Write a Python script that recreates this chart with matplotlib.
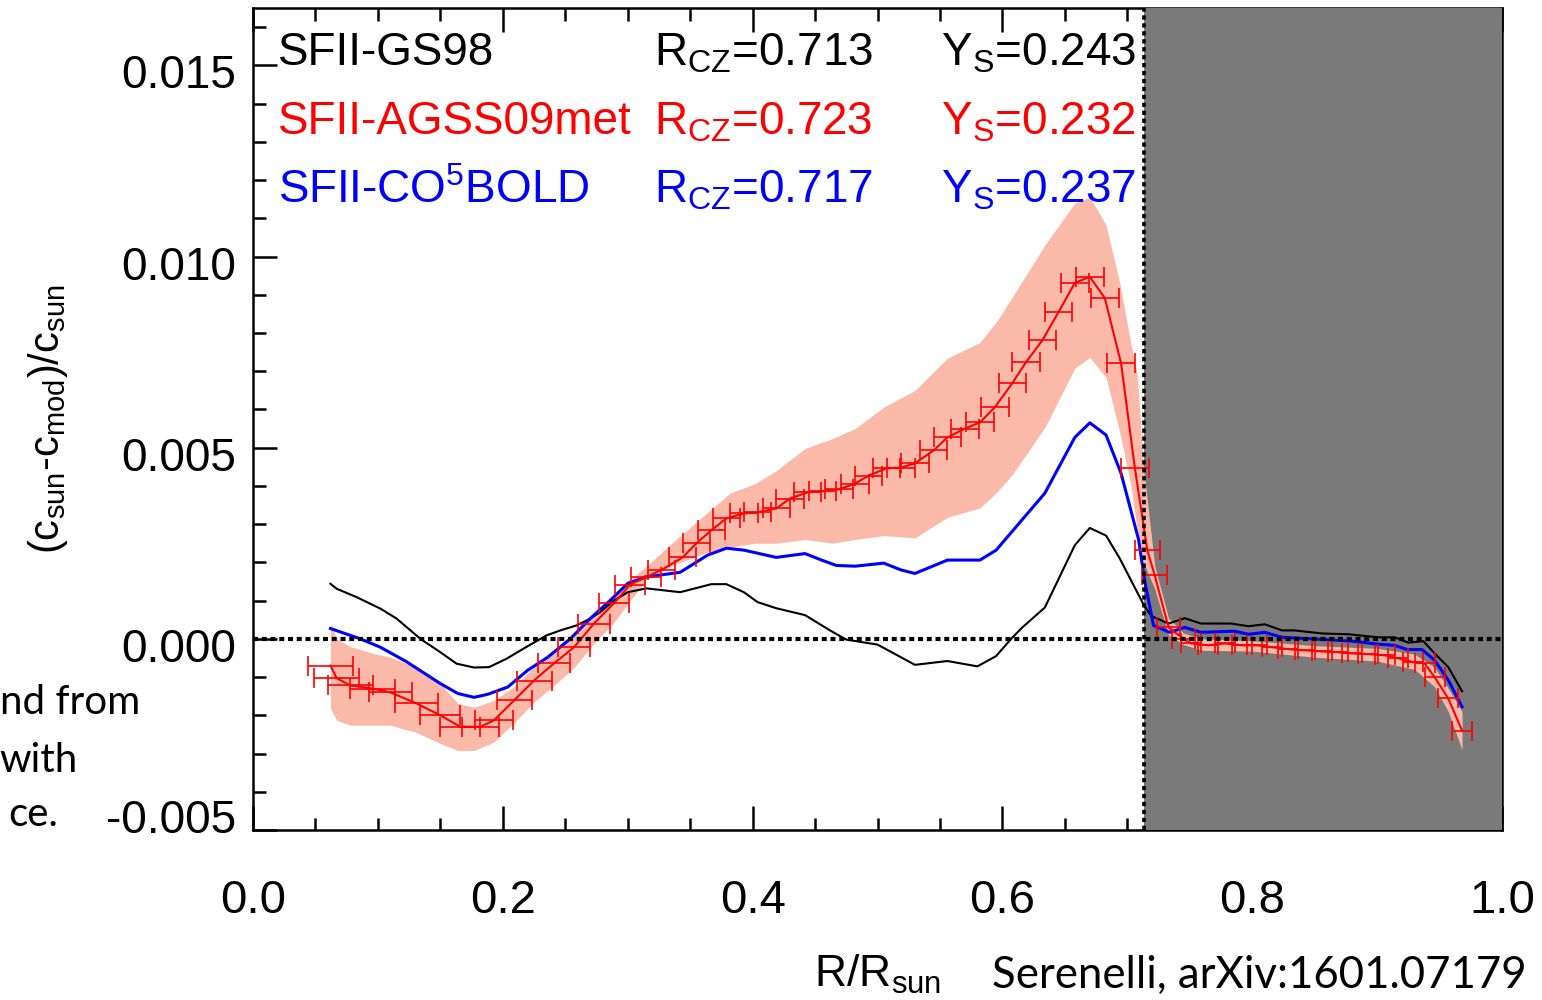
import matplotlib
matplotlib.use("Agg")
import matplotlib.pyplot as plt
import matplotlib.transforms as mtransforms
import numpy as np
from matplotlib.ticker import MultipleLocator

plt.rcParams['font.family'] = ['Liberation Sans', 'DejaVu Sans']
plt.rcParams['mathtext.default'] = 'regular'

# --- data (sound speed differences, in units of 1e-3) ---
gs98_x = [0.062, 0.067, 0.083, 0.102, 0.115, 0.134, 0.150, 0.163, 0.177, 0.189,
          0.203, 0.219, 0.235, 0.246, 0.259, 0.270, 0.278, 0.289, 0.300, 0.315,
          0.342, 0.367, 0.379, 0.393, 0.404, 0.419, 0.442, 0.462, 0.475, 0.500,
          0.530, 0.556, 0.580, 0.595, 0.607, 0.616, 0.634, 0.658, 0.670, 0.683,
          0.694, 0.709, 0.713, 0.719, 0.733, 0.746, 0.759, 0.783, 0.797, 0.810,
          0.824, 0.834, 0.856, 0.877, 0.901, 0.914, 0.925, 0.937, 0.946, 0.957,
          0.968]
gs98_y = [1.44, 1.31, 1.09, 0.79, 0.53, 0.00, -0.35, -0.65, -0.75, -0.74,
          -0.52, -0.21, 0.09, 0.22, 0.35, 0.53, 0.70, 1.00, 1.22, 1.32,
          1.22, 1.43, 1.43, 1.22, 0.96, 0.80, 0.62, 0.22, -0.02, -0.15,
          -0.68, -0.58, -0.72, -0.45, 0.00, 0.30, 0.82, 2.45, 2.90, 2.70,
          2.10, 1.15, 0.90, 0.60, 0.40, 0.54, 0.40, 0.40, 0.33, 0.38,
          0.22, 0.22, 0.14, 0.12, 0.04, 0.04, -0.10, -0.06, -0.38, -0.74,
          -1.37]

co5_x = [0.062, 0.086, 0.102, 0.123, 0.150, 0.164, 0.177, 0.188, 0.204, 0.220,
         0.236, 0.254, 0.270, 0.286, 0.300, 0.315, 0.342, 0.364, 0.379, 0.393,
         0.419, 0.442, 0.456, 0.467, 0.482, 0.505, 0.519, 0.530, 0.556, 0.582,
         0.595, 0.634, 0.658, 0.670, 0.683, 0.695, 0.709, 0.714, 0.721, 0.734,
         0.746, 0.759, 0.786, 0.797, 0.810, 0.824, 0.853, 0.880, 0.901, 0.914,
         0.924, 0.936, 0.946, 0.957, 0.968]
co5_y = [0.27, 0.00, -0.22, -0.60, -1.17, -1.43, -1.53, -1.45, -1.26, -0.82,
         -0.48, 0.00, 0.53, 1.00, 1.45, 1.62, 1.74, 2.19, 2.37, 2.32,
         2.13, 2.23, 2.05, 1.92, 1.90, 1.98, 1.80, 1.71, 2.06, 2.06,
         2.32, 3.81, 5.27, 5.65, 5.33, 4.33, 2.60, 1.50, 0.35, 0.17,
         0.30, 0.17, 0.20, 0.12, 0.17, 0.04, -0.01, -0.06, -0.14, -0.17,
         -0.28, -0.28, -0.56, -1.08, -1.78]

agss_x = [0.062, 0.067, 0.078, 0.096, 0.110, 0.131, 0.150, 0.166, 0.182, 0.193,
          0.209, 0.225, 0.241, 0.257, 0.273, 0.289, 0.302, 0.315, 0.327, 0.344,
          0.355, 0.367, 0.379, 0.393, 0.404, 0.419, 0.430, 0.444, 0.456, 0.469,
          0.482, 0.493, 0.507, 0.519, 0.530, 0.545, 0.556, 0.570, 0.582, 0.594,
          0.608, 0.619, 0.632, 0.645, 0.658, 0.670, 0.682, 0.695, 0.706, 0.716,
          0.722, 0.733, 0.745, 0.751, 0.765, 0.778, 0.792, 0.804, 0.816, 0.829,
          0.842, 0.856, 0.869, 0.880, 0.893, 0.906, 0.917, 0.929, 0.938, 0.946,
          0.957, 0.968]
agss_y = [-0.70, -1.03, -1.22, -1.30, -1.40, -1.69, -2.00, -2.30, -2.30, -2.13,
          -1.61, -1.09, -0.64, -0.22, 0.40, 0.93, 1.42, 1.62, 1.80, 2.13,
          2.50, 2.84, 3.15, 3.28, 3.31, 3.41, 3.67, 3.83, 3.86, 3.91,
          4.06, 4.27, 4.46, 4.48, 4.59, 4.93, 5.27, 5.50, 5.66, 6.06,
          6.69, 7.24, 7.81, 8.55, 9.31, 9.47, 8.91, 7.21, 4.48, 2.32,
          1.66, 0.30, 0.00, -0.12, -0.17, -0.12, -0.17, -0.17, -0.22, -0.27,
          -0.30, -0.33, -0.35, -0.38, -0.40, -0.43, -0.51, -0.61, -0.64, -1.00,
          -1.56, -2.40]
agss_xerr = [0.018, 0.018, 0.018, 0.018, 0.017, 0.017, 0.016, 0.016, 0.015, 0.015,
             0.014, 0.014, 0.013, 0.013, 0.013, 0.012, 0.012, 0.012, 0.011, 0.011,
             0.011, 0.011, 0.011, 0.011, 0.011, 0.011, 0.011, 0.011, 0.011, 0.011,
             0.011, 0.011, 0.011, 0.011, 0.011, 0.011, 0.011, 0.011, 0.011, 0.011,
             0.011, 0.011, 0.011, 0.011, 0.011, 0.011, 0.011, 0.011, 0.011, 0.010,
             0.010, 0.009, 0.009, 0.008, 0.008, 0.008, 0.008, 0.008, 0.008, 0.008,
             0.008, 0.008, 0.008, 0.008, 0.008, 0.008, 0.008, 0.008, 0.008, 0.008,
             0.008, 0.008]

band_x = [0.062, 0.067, 0.078, 0.096, 0.110, 0.131, 0.150, 0.164, 0.177, 0.193,
          0.209, 0.225, 0.241, 0.257, 0.273, 0.289, 0.302, 0.315, 0.338, 0.364,
          0.382, 0.402, 0.419, 0.442, 0.464, 0.482, 0.505, 0.530, 0.556, 0.582,
          0.596, 0.608, 0.634, 0.658, 0.670, 0.683, 0.694, 0.703, 0.708, 0.713,
          0.722, 0.733, 0.745, 0.760, 0.800, 0.850, 0.900, 0.930, 0.946, 0.957,
          0.968]
band_hi = [0.40, 0.00, -0.20, -0.38, -0.48, -0.75, -1.17, -1.69, -1.79, -1.61,
           -1.25, -0.72, -0.28, 0.12, 0.70, 1.20, 1.55, 1.90, 2.58, 3.31,
           3.81, 4.06, 4.40, 4.98, 5.24, 5.50, 6.06, 6.50, 7.34, 7.75,
           8.33, 8.94, 10.30, 11.40, 11.56, 10.82, 9.30, 7.70, 6.90, 4.50,
           1.90, 0.55, 0.15, 0.00, -0.05, -0.18, -0.25, -0.40, -0.75, -1.30,
           -1.90]
band_lo = [-1.82, -2.13, -2.26, -2.26, -2.26, -2.45, -2.74, -2.92, -2.92, -2.70,
           -2.20, -1.65, -1.22, -0.75, -0.12, 0.43, 1.00, 1.55, 1.95, 2.27,
           2.40, 2.50, 2.50, 2.60, 2.50, 2.60, 2.70, 2.64, 3.18, 3.42,
           3.85, 4.30, 5.53, 7.08, 7.36, 6.84, 5.40, 4.00, 2.83, 2.00,
           1.30, 0.10, -0.15, -0.30, -0.32, -0.48, -0.58, -0.80, -1.25, -1.90,
           -2.90]

r_cz_gs98 = 0.713

labels = ["SFII-GS98", "SFII-AGSS09met", "SFII-CO$^5$BOLD"]
rcz_labels = ["0.713", "0.723", "0.717"]
ys_labels = ["0.243", "0.232", "0.237"]
colors = ["black", "red", "blue"]

sc = 1e-3

fig = plt.figure(figsize=(15.42, 10), dpi=100)
ax = fig.add_axes([253 / 1542, 0.17, 1249 / 1542, 0.822])

ax.fill_between(band_x, np.array(band_lo) * sc, np.array(band_hi) * sc,
                color="#fbb9aa", lw=0, zorder=3)
ax.plot(gs98_x, np.array(gs98_y) * sc, color="black", lw=1.5, zorder=4)
ax.plot(co5_x, np.array(co5_y) * sc, color="blue", lw=2.2, zorder=4)
ax.plot(agss_x, np.array(agss_y) * sc, color="red", lw=1.5, zorder=5)
ax.errorbar(agss_x, np.array(agss_y) * sc, xerr=agss_xerr, fmt="none",
            ecolor="red", elinewidth=1.4, capsize=7.5, capthick=1.4,
            alpha=0.85, zorder=5)

# convective envelope shading
ax.axvspan(r_cz_gs98, 1.0, color="#7a7a7a", lw=0, zorder=2.6)
ax.axvline(r_cz_gs98, color="black", lw=2.6, ls=(0, (1.2, 1.0)), zorder=6)
ax.axhline(0.0, color="black", lw=3.0, ls=(0, (1.2, 0.9)), zorder=6)

ax.set_xlim(0.0, 1.0)
ax.set_ylim(-0.005, 0.0165)
ax.xaxis.set_major_locator(MultipleLocator(0.2))
ax.xaxis.set_minor_locator(MultipleLocator(0.05))
ax.yaxis.set_major_locator(MultipleLocator(0.005))
ax.yaxis.set_minor_locator(MultipleLocator(0.001))
ax.tick_params(which="both", direction="in", top=True, right=False, width=1.8)
ax.tick_params(which="major", length=17)
ax.tick_params(which="minor", length=9)
ax.tick_params(axis="x", labelsize=34, pad=35)
ax.tick_params(axis="y", labelsize=33, pad=12)
ax.xaxis.set_major_formatter(plt.FuncFormatter(lambda v, p: "%.1f" % v))
ax.yaxis.set_major_formatter(plt.FuncFormatter(lambda v, p: "%.3f" % v))
for s in ax.spines.values():
    s.set_linewidth(1.8)

# y tick labels sit a little below their ticks, the lowest one is lifted
fig.canvas.draw()
for lab in ax.get_yticklabels():
    dy = 14 if lab.get_text().startswith("-") else -6
    lab.set_transform(lab.get_transform() + mtransforms.ScaledTranslation(
        0, dy / 100, fig.dpi_scale_trans))

ax.set_xlabel("R/R$_{sun}$", fontsize=32, labelpad=22)
ax.set_ylabel("(c$_{sun}$-c$_{mod}$)/c$_{sun}$", fontsize=30, labelpad=26)

# model annotations
for i in range(3):
    yy = 0.015 - i * 0.0018
    ax.text(0.02, yy, labels[i], color=colors[i], fontsize=33, zorder=7)
    ax.text(0.321, yy, "R$_{CZ}$=" + rcz_labels[i], color=colors[i],
            fontsize=33, zorder=7)
    ax.text(0.551, yy, "Y$_S$=" + ys_labels[i], color=colors[i],
            fontsize=33, zorder=7)

# slide text around the figure
fig.text(1527 / 1542, 0.025, "Serenelli, arXiv:1601.07179", ha="right",
         va="center", fontsize=31.5, family=["Lato", "DejaVu Sans"])
for t, xr, yc in [("nd from", 140, 703), ("with", 78, 760), ("ce.", 58, 815)]:
    fig.text(xr / 1542, 1 - yc / 1000, t, ha="right", va="center",
             fontsize=29, family=["Lato", "DejaVu Sans"])

fig.savefig("out.png", dpi=100)
